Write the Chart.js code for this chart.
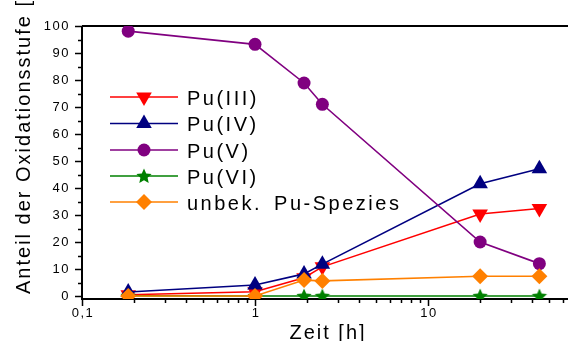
<!DOCTYPE html>
<html>
<head>
<meta charset="utf-8">
<script src="https://cdn.jsdelivr.net/npm/chart.js@4.4.1/dist/chart.umd.min.js"></script>
<style>
  body { margin: 0; background: #fff; }
  #wrap { width: 568px; height: 341px; }
</style>
</head>
<body>
<div id="wrap"><canvas id="myChart" width="568" height="341"></canvas></div>
<script>
// Zeit in Stunden
var zeit = [0.185, 1, 1.92, 2.45, 20, 44];

var puIII = [0.5, 1.6, 6.8, 10.8, 30.4, 32.4];
var puIV  = [1.5, 4.1, 8.2, 11.8, 41.6, 47.1];
var puV   = [98.1, 93.2, 78.9, 71.0, 20.0, 12.0];
var puVI  = [0.1, 0, 0, 0, 0, 0];
var unbek = [0, 0, 5.9, 5.6, 7.3, 7.3];

var names = ['Pu(III)', 'Pu(IV)', 'Pu(V)', 'Pu(VI)', 'unbek. Pu-Spezies'];
var colors = ['#ff0000', '#000080', '#800080', '#008000', '#ff8000'];

var yTicks = [0, 10, 20, 30, 40, 50, 60, 70, 80, 90, 100];
var xTicks = [0.1, 1, 10];
var xTickLabels = ['0,1', '1', '10'];

var FONT = '"Liberation Sans", Arial, sans-serif';

function points(xs, ys) {
  var a = [];
  for (var i = 0; i < xs.length; i++) {
    a.push({x: xs[i], y: ys[i]});
  }
  return a;
}

// gefuellter Stern als pointStyle
function makeStar(color, r) {
  var c = document.createElement('canvas');
  c.width = r * 2 + 2;
  c.height = r * 2 + 2;
  var g = c.getContext('2d');
  g.fillStyle = color;
  g.beginPath();
  for (var i = 0; i < 10; i++) {
    var rad = (i % 2 == 0) ? r : r * 0.47;
    var a = -Math.PI / 2 + i * Math.PI / 5;
    var px = r + 1 + rad * Math.cos(a);
    var py = r + 1.5 + rad * Math.sin(a);
    if (i == 0) g.moveTo(px, py); else g.lineTo(px, py);
  }
  g.closePath();
  g.fill();
  return c;
}
var star = makeStar(colors[3], 8);

var styles = [
  {pointStyle: 'triangle', rotation: 180, radius: 9},
  {pointStyle: 'triangle', rotation: 0, radius: 9},
  {pointStyle: 'circle', rotation: 0, radius: 6.5},
  {pointStyle: star, rotation: 0, radius: 8},
  {pointStyle: 'rectRot', rotation: 0, radius: 8}
];
var series = [puIII, puIV, puV, puVI, unbek];

var datasets = [];
for (var i = 0; i < series.length; i++) {
  datasets.push({
    label: names[i],
    data: points(zeit, series[i]),
    borderColor: colors[i],
    backgroundColor: colors[i],
    borderWidth: 1.6,
    pointStyle: styles[i].pointStyle,
    pointRotation: styles[i].rotation,
    pointRadius: styles[i].radius,
    pointBorderWidth: 0,
    order: 5 - i
  });
}

var decor = {
  id: 'decor',
  beforeDatasetsDraw: function(chart) {
    var ctx = chart.ctx;
    var a = chart.chartArea;
    var xs = chart.scales.x, ys = chart.scales.y;
    ctx.save();
    ctx.strokeStyle = '#000';
    ctx.lineWidth = 2;
    ctx.beginPath();
    ctx.moveTo(a.left, a.top);
    ctx.lineTo(a.right, a.top);
    ctx.moveTo(a.left, a.top);
    ctx.lineTo(a.left, a.bottom);
    ctx.lineTo(a.right, a.bottom);
    ctx.stroke();
    ctx.lineWidth = 1.5;
    ctx.beginPath();
    for (var v = 0; v <= 100; v += 5) {
      var py = Math.round(ys.getPixelForValue(v)) + 0.5;
      var len = (v % 10 == 0) ? 7 : 4;
      ctx.moveTo(a.left - len, py);
      ctx.lineTo(a.left, py);
    }
    for (var d = 0.1; d < 100; d *= 10) {
      for (var k = 1; k < 10; k++) {
        var val = d * k;
        if (val > xs.max) break;
        var px = Math.round(xs.getPixelForValue(val)) + 0.5;
        var l2 = (k == 1) ? 7 : 4;
        ctx.moveTo(px, a.bottom);
        ctx.lineTo(px, a.bottom + l2);
      }
    }
    ctx.stroke();

    // Achsenbeschriftung
    ctx.fillStyle = '#000';
    ctx.font = '13px ' + FONT;
    ctx.letterSpacing = '1.5px';
    ctx.textBaseline = 'middle';
    ctx.textAlign = 'right';
    for (var j = 0; j < yTicks.length; j++) {
      ctx.fillText(String(yTicks[j]), 70, ys.getPixelForValue(yTicks[j]));
    }
    ctx.textAlign = 'center';
    for (var m = 0; m < xTicks.length; m++) {
      ctx.fillText(xTickLabels[m], xs.getPixelForValue(xTicks[m]) + 1, 313);
    }
    ctx.restore();
  },
  afterDraw: function(chart) {
    var ctx = chart.ctx;
    ctx.save();
    ctx.letterSpacing = '2.5px';
    ctx.wordSpacing = '4px';
    ctx.fillStyle = '#000';
    ctx.font = '20px ' + FONT;
    // Legende
    var rowY = [97, 123.5, 150, 176, 202];
    for (var i = 0; i < names.length; i++) {
      var y = rowY[i];
      ctx.strokeStyle = colors[i];
      ctx.lineWidth = 1.6;
      ctx.beginPath();
      ctx.moveTo(110, y);
      ctx.lineTo(178, y);
      ctx.stroke();
      ctx.fillStyle = colors[i];
      Chart.helpers.drawPoint(ctx, {
        pointStyle: styles[i].pointStyle,
        rotation: styles[i].rotation,
        radius: styles[i].radius,
        borderWidth: 0
      }, 144, y);
      ctx.fillStyle = '#000';
      ctx.textAlign = 'left';
      ctx.textBaseline = 'alphabetic';
      ctx.fillText(names[i], 187, y + 7.5);
    }
    // Achsentitel
    ctx.letterSpacing = '2px';
    ctx.wordSpacing = '0px';
    ctx.textAlign = 'center';
    ctx.fillText('Zeit [h]', 328, 339);
    ctx.translate(30, 294);
    ctx.rotate(-Math.PI / 2);
    ctx.textAlign = 'left';
    ctx.fillText('Anteil der Oxidationsstufe [%]', 0, 0);
    ctx.restore();
  }
};

var ctx = document.getElementById('myChart').getContext('2d');
var chart = new Chart(ctx, {
  type: 'line',
  data: { datasets: datasets },
  options: {
    responsive: false,
    animation: false,
    events: [],
    layout: { autoPadding: false, padding: { left: 0, top: 26, right: 0, bottom: 0 } },
    scales: {
      x: {
        type: 'logarithmic',
        min: 0.1,
        max: 64.4,
        grid: { display: false },
        border: { display: false },
        ticks: { display: false },
        afterFit: function(s) { s.height = 42; }
      },
      y: {
        type: 'linear',
        min: -1.1,
        max: 100,
        grid: { display: false },
        border: { display: false },
        ticks: { display: false },
        afterFit: function(s) { s.width = 82; }
      }
    },
    plugins: {
      legend: { display: false },
      tooltip: { enabled: false }
    }
  },
  plugins: [decor]
});
</script>
</body>
</html>
